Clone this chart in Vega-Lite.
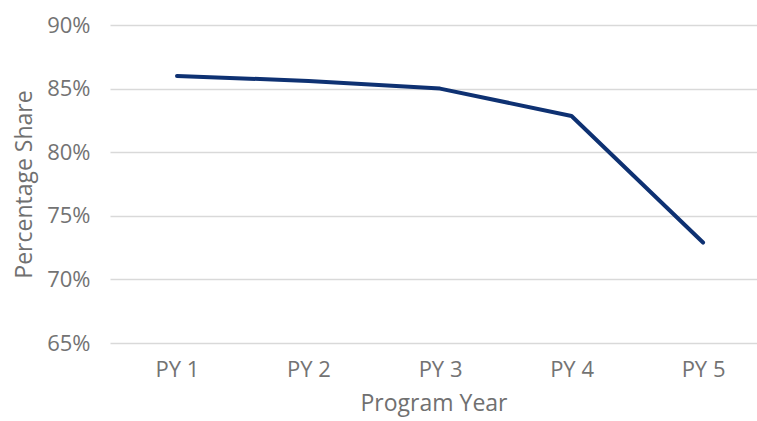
{
  "$schema": "https://vega.github.io/schema/vega-lite/v6.json",
  "autosize": "none",
  "width": 647,
  "height": 318,
  "padding": {"left": 110, "top": 25, "right": 0, "bottom": 78},
  "background": "white",
  "config": {"view": {"stroke": null}, "font": "Open Sans"},
  "data": {"values": [
    {"year": "PY 1", "share": 0.860},
    {"year": "PY 2", "share": 0.856},
    {"year": "PY 3", "share": 0.850},
    {"year": "PY 4", "share": 0.8285},
    {"year": "PY 5", "share": 0.729}
  ]},
  "mark": {"type": "line", "color": "#0e3172", "strokeWidth": 4, "strokeCap": "round", "strokeJoin": "round"},
  "encoding": {
    "x": {"field": "year", "type": "ordinal", "sort": null,
      "scale": {"type": "point", "padding": 0.46, "align": 0.554},
      "axis": {"title": "Program Year", "labelAngle": 0, "domain": false, "ticks": false, "grid": false,
        "labelFontSize": 22, "labelColor": "#737373", "labelPadding": 16,
        "titleFontSize": 23, "titleFontWeight": "normal", "titleColor": "#707070", "titlePadding": 12}},
    "y": {"field": "share", "type": "quantitative",
      "scale": {"domain": [0.65, 0.90], "nice": false, "zero": false},
      "axis": {"title": "Percentage Share", "format": ".0%", "values": [0.65, 0.70, 0.75, 0.80, 0.85, 0.90],
        "domain": false, "ticks": false, "gridColor": "#d9d9d9", "gridWidth": 1.5,
        "labelFontSize": 22, "labelColor": "#737373", "labelPadding": 20,
        "titleFontSize": 23, "titleFontWeight": "normal", "titleColor": "#707070", "titlePadding": 10}}
  }
}
